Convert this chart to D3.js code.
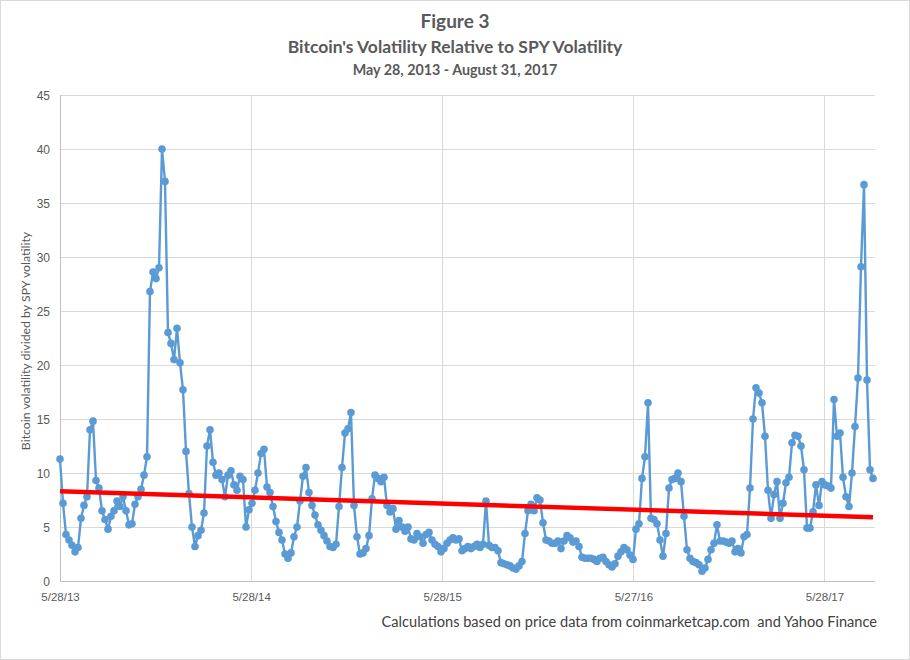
<!DOCTYPE html>
<html>
<head>
<meta charset="utf-8">
<script src="https://cdn.jsdelivr.net/npm/d3@7/dist/d3.min.js"></script>
<style>
  html, body { margin: 0; padding: 0; background: #fff; }
  svg { display: block; font-family: Lato, "Open Sans", sans-serif; }
</style>
</head>
<body>
<svg id="chart" width="910" height="660"></svg>
<script>
// ---- Data ----
const titleLines = ["Figure 3", "Bitcoin's Volatility Relative to SPY Volatility", "May 28, 2013 - August 31, 2017"];
const yAxisTitle = "Bitcoin volatility divided by SPY volatility";
const sourceNote = "Calculations based on price data from coinmarketcap.com  and Yahoo Finance";

// trading-day positions of the date labels on the category axis
const tickDays = [0, 252, 504, 756, 1008];
const tickLabels = ["5/28/13", "5/28/14", "5/28/15", "5/27/16", "5/28/17"];
const totalTradingDays = 1072;   // 5/28/13 .. 8/31/17
const yTicks = [0, 5, 10, 15, 20, 25, 30, 35, 40, 45];

// BTC volatility / SPY volatility, sampled evenly across the period
const ratio = [
  11.3, 7.2, 4.3, 3.8, 3.3, 2.7, 3.1, 5.8, 7.0, 7.8,
  14.0, 14.8, 9.3, 8.6, 6.5, 5.7, 4.8, 6.0, 6.5, 7.4,
  6.9, 7.8, 6.5, 5.2, 5.3, 7.1, 7.8, 8.5, 9.8, 11.5,
  26.8, 28.6, 28.0, 29.0, 40.0, 37.0, 23.0, 22.0, 20.5, 23.4,
  20.2, 17.7, 12.0, 8.1, 5.0, 3.2, 4.2, 4.7, 6.3, 12.5,
  14.0, 11.0, 9.8, 10.0, 9.4, 7.8, 9.8, 10.2, 8.9, 8.4,
  9.7, 9.4, 5.0, 6.6, 7.2, 8.4, 10.0, 11.8, 12.2, 8.7,
  8.2, 6.9, 5.5, 4.5, 3.8, 2.5, 2.1, 2.6, 4.1, 5.0,
  7.4, 9.7, 10.5, 8.2, 7.0, 6.1, 5.2, 4.7, 4.2, 3.7,
  3.2, 3.1, 3.4, 6.9, 10.5, 13.7, 14.1, 15.6, 7.0, 4.1,
  2.5, 2.6, 3.0, 4.2, 7.6, 9.8, 9.5, 9.2, 9.6, 7.0,
  6.4, 6.7, 4.8, 5.6, 5.0, 4.6, 5.0, 3.9, 3.8, 4.4,
  4.1, 3.5, 4.3, 4.5, 3.8, 3.4, 3.2, 2.7, 3.0, 3.5,
  3.8, 4.0, 3.8, 3.9, 2.8, 3.0, 3.2, 3.0, 3.2, 3.4,
  3.1, 3.4, 7.4, 3.3, 3.1, 3.1, 2.8, 1.7, 1.6, 1.5,
  1.4, 1.2, 1.1, 1.4, 1.8, 4.4, 6.5, 7.1, 6.5, 7.7,
  7.5, 5.4, 3.8, 3.7, 3.5, 3.5, 3.7, 3.0, 3.7, 4.2,
  4.0, 3.6, 3.7, 3.2, 2.2, 2.1, 2.1, 2.1, 2.0, 1.8,
  2.1, 2.2, 1.8, 1.5, 1.3, 1.6, 2.3, 2.7, 3.1, 2.9,
  2.4, 2.0, 4.8, 5.3, 9.5, 11.5, 16.5, 5.8, 5.7, 5.3,
  3.8, 2.3, 4.4, 8.6, 9.4, 9.5, 10.0, 9.2, 6.0, 2.9,
  2.1, 1.8, 1.7, 1.5, 0.9, 1.2, 2.0, 2.9, 3.5, 5.2,
  3.7, 3.7, 3.6, 3.5, 3.7, 2.7, 3.0, 2.6, 4.1, 4.3,
  8.6, 15.0, 17.9, 17.4, 16.5, 13.4, 8.4, 5.8, 8.0, 9.2,
  5.8, 7.2, 9.1, 9.6, 12.8, 13.5, 13.4, 12.5, 10.3, 4.9,
  4.9, 6.4, 8.9, 7.0, 9.2, 8.9, 8.8, 8.6, 16.8, 13.4,
  13.7, 9.6, 7.8, 6.9, 10.0, 14.3, 18.8, 29.1, 36.7, 18.6,
  10.3, 9.5
];

// linear trend line end values
const trendValues = [8.3, 5.9];

// ---- Drawing ----
const W = 910, H = 660;
const margin = { left: 60, right: 36, top: 95, bottom: 79 };
const svg = d3.select("#chart");

svg.append("rect").attr("x", 0.5).attr("y", 0.5).attr("width", W - 1).attr("height", H - 1)
  .attr("fill", "#fff").attr("stroke", "#d9d9d9");

const x = d3.scaleLinear().domain([0, totalTradingDays]).range([margin.left, W - margin.right - 1]);
const y = d3.scaleLinear().domain([0, 45]).range([H - margin.bottom, margin.top]);

const gridRight = W - margin.right + 1;

// horizontal grid + y labels
const yAxis = d3.axisLeft(y).tickValues(yTicks).tickSize(-(gridRight - margin.left)).tickPadding(10).tickFormat(d3.format("d"));
const gy = svg.append("g").attr("transform", `translate(${margin.left},0)`).call(yAxis);
gy.select(".domain").remove();
gy.selectAll(".tick line").attr("stroke", "#d9d9d9").attr("stroke-width", 1);
gy.selectAll(".tick text").attr("fill", "#595959").attr("font-size", 12).attr("dy", "0.35em");

// vertical grid lines at label positions
svg.append("g").selectAll("line").data(tickDays.slice(1)).join("line")
  .attr("x1", d => Math.round(x(d)) + 0.5).attr("x2", d => Math.round(x(d)) + 0.5)
  .attr("y1", y(45)).attr("y2", y(0))
  .attr("stroke", "#d9d9d9").attr("stroke-width", 1);

// axis lines
svg.append("line").attr("x1", margin.left + 0.5).attr("x2", margin.left + 0.5)
  .attr("y1", y(45)).attr("y2", y(0)).attr("stroke", "#bfbfbf");
svg.append("line").attr("x1", margin.left).attr("x2", gridRight)
  .attr("y1", y(0) + 0.5).attr("y2", y(0) + 0.5).attr("stroke", "#bfbfbf");

// x axis labels
const xAxis = d3.axisBottom(x).tickValues(tickDays).tickFormat((d, i) => tickLabels[i]).tickSize(0).tickPadding(12);
const gx = svg.append("g").attr("transform", `translate(0,${y(0)})`).call(xAxis);
gx.select(".domain").remove();
gx.selectAll(".tick text").attr("fill", "#595959").attr("font-size", 11.5);

// series
const pts = ratio.map((v, i) => ({ day: i * totalTradingDays / (ratio.length - 1), v }));
const line = d3.line().x(d => x(d.day)).y(d => y(d.v));
svg.append("path").datum(pts).attr("d", line)
  .attr("fill", "none").attr("stroke", "#5b9bd5").attr("stroke-width", 2.4).attr("stroke-linejoin", "round");
svg.append("g").selectAll("circle").data(pts).join("circle")
  .attr("cx", d => x(d.day)).attr("cy", d => y(d.v)).attr("r", 3.8)
  .attr("fill", "#5b9bd5");

// trend line
const trendPts = [{ day: 0, v: trendValues[0] }, { day: totalTradingDays, v: trendValues[1] }];
svg.append("path").datum(trendPts).attr("d", line)
  .attr("fill", "none").attr("stroke", "#ff0000").attr("stroke-width", 4.5);

// titles
const titleSizes = [19, 17.5, 14.3];
const titleY = [28, 53, 75];
svg.append("g").selectAll("text").data(titleLines).join("text")
  .attr("x", 455).attr("y", (d, i) => titleY[i])
  .attr("text-anchor", "middle").attr("font-weight", "bold")
  .attr("font-size", (d, i) => titleSizes[i]).attr("fill", "#595959")
  .text(d => d);

// y axis title
svg.append("text").attr("transform", `translate(30,${(y(0) + y(45)) / 2 + 3}) rotate(-90)`)
  .attr("text-anchor", "middle").attr("font-size", 12.3).attr("fill", "#595959")
  .text(yAxisTitle);

// source note (keeps the double space of the original)
svg.append("text").attr("x", 877).attr("y", 627).attr("text-anchor", "end")
  .style("white-space", "pre")
  .attr("font-size", 14.6).attr("fill", "#404040").text(sourceNote);
</script>
</body>
</html>
